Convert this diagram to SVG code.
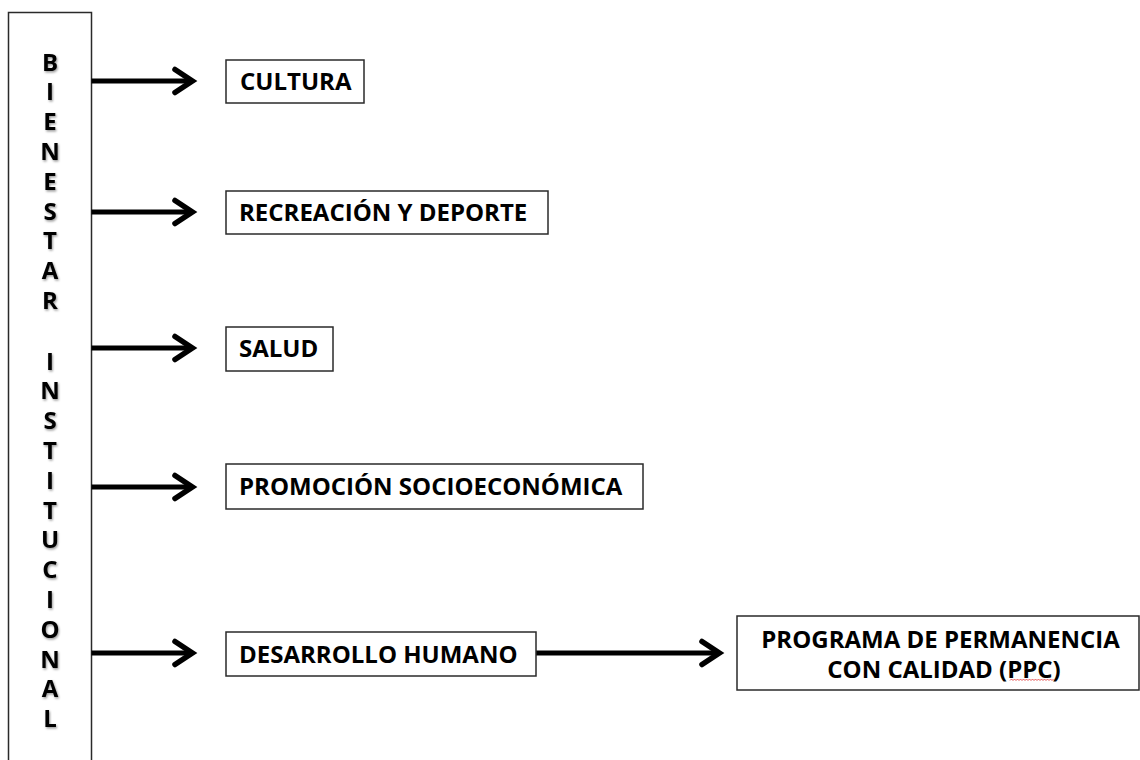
<svg xmlns="http://www.w3.org/2000/svg" width="1140" height="760" viewBox="0 0 1140 760">
  <style>
    .box { fill: #fff; stroke: #2a2a2a; stroke-width: 1.5; }
    .lbl { font-family: "Open Sans", "Liberation Sans", sans-serif; font-weight: 700; font-size: 24px; fill: #000; }
    .vl { font-family: "Open Sans", "Liberation Sans", sans-serif; font-weight: 700; font-size: 24px; fill: #000; text-anchor: middle; filter: url(#sh); }
    .conn { stroke: #000; stroke-width: 5; fill: none; marker-end: url(#chev); }
  </style>
  <defs>
    <marker id="chev" markerUnits="userSpaceOnUse" orient="auto" refX="0" refY="0" markerWidth="40" markerHeight="40" viewBox="-20 -20 40 40" overflow="visible">
      <path d="M-15,-11.5 L2.4,0 L-15,11.5" fill="none" stroke="#000" stroke-width="5.5" stroke-linecap="round" stroke-linejoin="miter"/>
    </marker>
    <filter id="sh" x="-50%" y="-50%" width="200%" height="200%">
      <feDropShadow dx="1" dy="1.5" stdDeviation="1" flood-color="#000" flood-opacity="0.4"/>
    </filter>
  </defs>
  <rect width="1140" height="760" fill="#fff"/>

  <g id="bienestar">
    <rect class="box" x="8.5" y="12.5" width="83" height="760"/>
    <text class="vl" x="50" y="70.5">B</text>
    <text class="vl" x="50" y="100.3">I</text>
    <text class="vl" x="50" y="130.1">E</text>
    <text class="vl" x="50" y="159.9">N</text>
    <text class="vl" x="50" y="189.7">E</text>
    <text class="vl" x="50" y="219.5">S</text>
    <text class="vl" x="50" y="249.3">T</text>
    <text class="vl" x="50" y="279.1">A</text>
    <text class="vl" x="50" y="308.9">R</text>
    <text class="vl" x="50" y="369.5">I</text>
    <text class="vl" x="50" y="399.3">N</text>
    <text class="vl" x="50" y="429.1">S</text>
    <text class="vl" x="50" y="458.9">T</text>
    <text class="vl" x="50" y="488.7">I</text>
    <text class="vl" x="50" y="518.5">T</text>
    <text class="vl" x="50" y="548.3">U</text>
    <text class="vl" x="50" y="578.1">C</text>
    <text class="vl" x="50" y="607.9">I</text>
    <text class="vl" x="50" y="637.7">O</text>
    <text class="vl" x="50" y="667.5">N</text>
    <text class="vl" x="50" y="697.3">A</text>
    <text class="vl" x="50" y="727.1">L</text>
  </g>

  <g id="connectors">
    <line class="conn" x1="91.5" y1="81" x2="190" y2="81"/>
    <line class="conn" x1="91.5" y1="212" x2="190" y2="212"/>
    <line class="conn" x1="91.5" y1="348" x2="190" y2="348"/>
    <line class="conn" x1="91.5" y1="487" x2="190" y2="487"/>
    <line class="conn" x1="91.5" y1="653" x2="190" y2="653"/>
    <line class="conn" x1="536" y1="653" x2="717" y2="653"/>
  </g>

  <g id="cultura">
    <rect class="box" x="226" y="60" width="138" height="43"/>
    <text class="lbl" x="240" y="90">CULTURA</text>
  </g>
  <g id="recreacion">
    <rect class="box" x="226" y="191" width="322" height="43"/>
    <text class="lbl" x="239" y="220.5">RECREACIÓN Y DEPORTE</text>
  </g>
  <g id="salud">
    <rect class="box" x="226" y="327" width="107" height="44"/>
    <text class="lbl" x="239" y="357">SALUD</text>
  </g>
  <g id="promocion">
    <rect class="box" x="226" y="464" width="417" height="45"/>
    <text class="lbl" x="239" y="495">PROMOCIÓN SOCIOECONÓMICA</text>
  </g>
  <g id="desarrollo">
    <rect class="box" x="226" y="632" width="310" height="44"/>
    <text class="lbl" x="239" y="662.5">DESARROLLO HUMANO</text>
  </g>
  <g id="ppc">
    <rect class="box" x="737" y="616" width="402" height="74"/>
    <text class="lbl" x="940.5" y="647.5" text-anchor="middle">PROGRAMA DE PERMANENCIA</text>
    <text class="lbl" x="944" y="677.5" text-anchor="middle">CON CALIDAD (PPC)</text>
    <path d="M1010,680.5 l1.5,-1.5 l1.5,1.5 l1.5,-1.5 l1.5,1.5 l1.5,-1.5 l1.5,1.5 l1.5,-1.5 l1.5,1.5 l1.5,-1.5 l1.5,1.5 l1.5,-1.5 l1.5,1.5 l1.5,-1.5 l1.5,1.5 l1.5,-1.5 l1.5,1.5 l1.5,-1.5 l1.5,1.5 l1.5,-1.5 l1.5,1.5 l1.5,-1.5 l1.5,1.5 l1.5,-1.5 l1.5,1.5 l1.5,-1.5 l1.5,1.5 l1.5,-1.5 l1.5,1.5 l1.5,-1.5" fill="none" stroke="#e03030" stroke-width="0.8"/>
  </g>
</svg>
